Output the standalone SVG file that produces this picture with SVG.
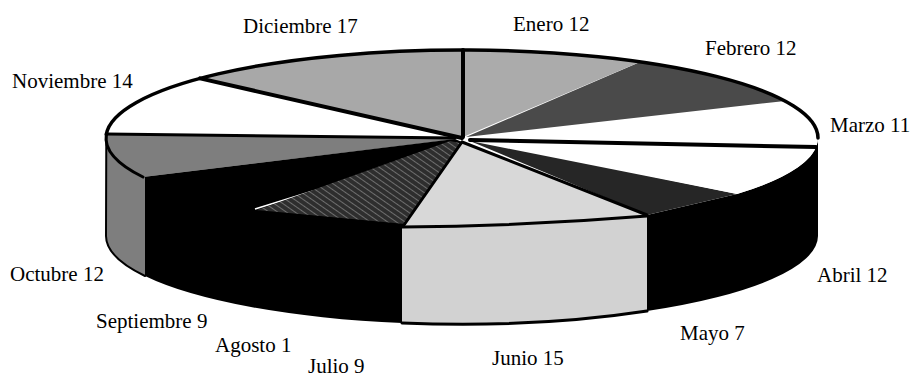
<svg xmlns="http://www.w3.org/2000/svg" width="914" height="379" viewBox="0 0 914 379">
<defs>
<style>
.lbl{font-family:"Liberation Serif","Times New Roman",serif;font-size:21px;fill:#000}
.edge{fill:none;stroke:#000;stroke-linecap:round;stroke-linejoin:round}
</style>
<pattern id="hatch" patternUnits="userSpaceOnUse" width="5" height="5" patternTransform="rotate(-55)">
<rect width="5" height="5" fill="#2e2e2e"/>
<line x1="0" y1="0" x2="0" y2="5" stroke="#9a9a9a" stroke-width="1.2"/>
</pattern>
</defs>
<rect width="914" height="379" fill="#fff"/>

<g id="octubre">
<path d="M106.3,134.4 L106,236 A356,88 0 0,0 145,276 L145,177 A356,88 0 0,1 106.3,134.4 Z" fill="#7e7e7e"/>
<path d="M458,139 L106.3,134.4 A356,88 0 0,0 143,177 Z" fill="#7e7e7e"/>
</g>

<g id="septiembre">
<path d="M143,177 L455,139 L462,142 L405,225 L402,227 L402,323 A356,88 0 0,1 145,276 L145,177 Z" fill="#000"/>
</g>

<g id="agosto">
<line x1="255" y1="209" x2="313" y2="191" stroke="#fff" stroke-width="1.5"/>
</g>

<g id="julio">
<path d="M257,210 L405,224 L460,143 L450,141 Z" fill="url(#hatch)"/>
</g>

<g id="junio">
<path d="M402,227 Q525,226 647,216 L647,311 A356,88 0 0,1 402,323 Z" fill="#d2d2d2"/>
<path d="M463,141 L647,215 Q525,226 403,226 Z" fill="#d8d8d8"/>
</g>

<g id="mayo">
<path d="M647,215 L737,194 A356,88 0 0,0 818,138 L818,236 A356,88 0 0,1 647,311 Z" fill="#000"/>
<path d="M470,141 L737,194 L647,215 Z" fill="#262626"/>
</g>

<g id="abril">
<path d="M490,143 L815,149.4 A356,88 0 0,1 737,194 Z" fill="#fff"/>
</g>

<g id="marzo">
<path d="M470,139 L785,101 A356,88 0 0,1 816,147 Z" fill="#fff"/>
</g>

<g id="febrero">
<path d="M466,137 L640,62 A356,88 0 0,1 785,101 Z" fill="#4a4a4a"/>
</g>

<g id="enero">
<path d="M463,137 L463,50 A356,88 0 0,1 640,62 Z" fill="#ababab"/>
</g>

<g id="diciembre">
<path d="M462,137 L200,78.4 A356,88 0 0,1 463,50 Z" fill="#a8a8a8"/>
</g>

<g id="noviembre">
<path d="M460,137 L106.3,134.4 A356,88 0 0,1 200,78.4 Z" fill="#fff"/>
</g>

<g id="connectors">
<path class="edge" stroke-width="3.5" d="M106.3,134.4 A356,88 0 0,1 818,138"/>
<path class="edge" stroke-width="3" d="M106.3,134.4 A356,88 0 0,0 143,177"/>
<path class="edge" stroke-width="2" d="M106.3,134.4 L106,236 A356,88 0 0,0 145,276"/>
<path class="edge" stroke-width="4" d="M200,78.4 L462,138"/>
<path class="edge" stroke-width="4" d="M463,50 L463,137"/>
<path class="edge" stroke-width="3" d="M106.3,134 L455,138"/>
<path class="edge" stroke-width="4" d="M470,140 L816,147"/>
<path class="edge" stroke-width="3" d="M402,227 Q525,226 647,216"/>
<path class="edge" stroke-width="3" d="M402,323 A356,88 0 0,0 647,311"/>
<path class="edge" stroke-width="3" d="M462,142 L404,225"/>
<path class="edge" stroke-width="3" d="M462,142 L647,215"/>
</g>

<g id="labels">
<text class="lbl" x="243" y="33">Diciembre 17</text>
<text class="lbl" x="513" y="31">Enero 12</text>
<text class="lbl" x="705" y="55">Febrero 12</text>
<text class="lbl" x="830" y="132">Marzo 11</text>
<text class="lbl" x="12" y="88">Noviembre 14</text>
<text class="lbl" x="10" y="281">Octubre 12</text>
<text class="lbl" x="96" y="328">Septiembre 9</text>
<text class="lbl" x="215" y="352">Agosto 1</text>
<text class="lbl" x="308" y="373">Julio 9</text>
<text class="lbl" x="492" y="365">Junio 15</text>
<text class="lbl" x="680" y="340">Mayo 7</text>
<text class="lbl" x="817" y="282">Abril 12</text>
</g>
</svg>
